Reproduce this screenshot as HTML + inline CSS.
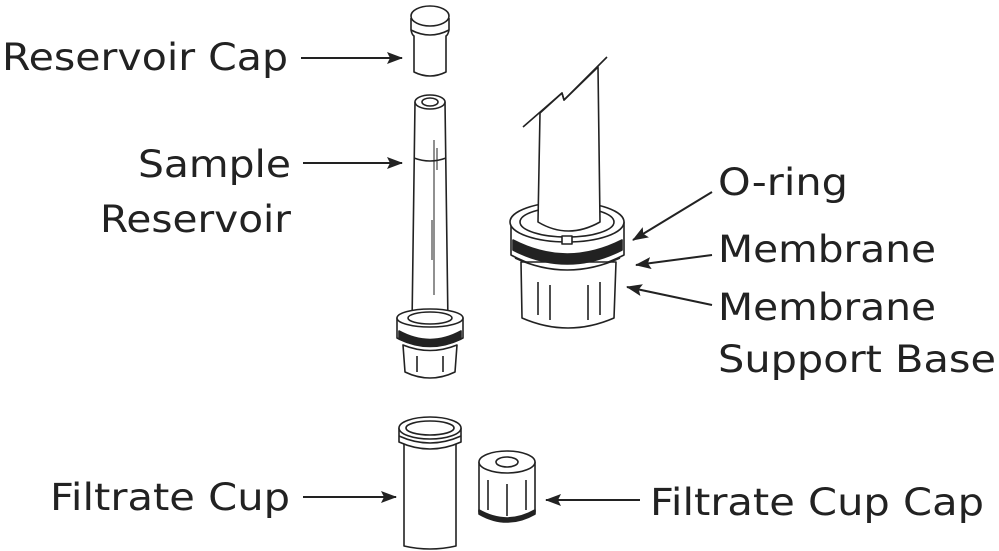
<!DOCTYPE html>
<html><head><meta charset="utf-8"><style>
html,body{margin:0;padding:0;background:#fff;}
svg{display:block}
text{font-family:"DejaVu Sans","Liberation Sans",sans-serif;font-size:37px;fill:#222}
</style></head><body>
<svg width="999" height="551" viewBox="0 0 999 551" xmlns="http://www.w3.org/2000/svg">
<defs>
<marker id="ah" markerWidth="16" markerHeight="12" refX="15" refY="6" orient="auto" markerUnits="userSpaceOnUse">
<path d="M0,0 L16,6 L0,12 L3,6 Z" fill="#222"/></marker>
</defs>
<g stroke="#222" stroke-width="1.6" fill="#fff" stroke-linejoin="round">
<path d="M411,18 L411,30 Q412,35 414,36 L414,72 Q430,80 446,72 L446,36 Q448,35 449,30 L449,18"/>
<ellipse cx="430" cy="16" rx="19" ry="10"/>
<path d="M411,30 Q430,40 449,30" fill="none"/>
<path d="M415,102 L412,325 L448,325 L445,102 Z"/>
<ellipse cx="430" cy="102" rx="15" ry="7"/>
<ellipse cx="430" cy="102" rx="8" ry="4"/>
<path d="M414,158 Q430,164 446,158" fill="none"/>
<path d="M434,140 L434,295 M437,148 L437,170 M432,220 L432,260" fill="none" stroke-width="1"/>
<path d="M397,318 L397,338 Q430,354 463,338 L463,318 Z"/>
<ellipse cx="430" cy="318" rx="33" ry="9"/>
<ellipse cx="430" cy="318" rx="22" ry="6"/>
<path d="M399,331 Q430,348 461,331 L461,339 Q430,354 399,339 Z" fill="#222"/>
<path d="M403,345 L405,372 Q430,384 455,372 L457,345 Q430,356 403,345 Z"/>
<path d="M417,356 L417,372 M443,356 L443,372" fill="none"/>
<path d="M404,440 L404,546 Q430,552 456,546 L456,440"/>
<path d="M399,428 L399,442 Q430,456 461,442 L461,428"/>
<ellipse cx="430" cy="428" rx="31" ry="11"/>
<ellipse cx="430" cy="428" rx="24" ry="7"/>
<path d="M399,436 Q430,450 461,436" fill="none"/>
<path d="M479,462 L479,512 Q507,528 535,512 L535,462"/>
<ellipse cx="507" cy="462" rx="28" ry="11"/>
<ellipse cx="507" cy="462" rx="11" ry="5"/>
<path d="M479,510 Q507,526 535,510 L535,514 Q507,530 479,514 Z" fill="#222"/>
<path d="M488,480 L488,510 M507,484 L507,516 M526,480 L526,510" fill="none"/>
<path d="M511,222 L511,255 Q566,285 624,255 L624,222 Z"/>
<path d="M521,262 L522,318 Q568,338 614,318 L616,262 Z"/>
<path d="M538,282 L538,315 M550,285 L550,320 M588,285 L588,320 M600,282 L600,315" fill="none"/>
<ellipse cx="567" cy="222" rx="57" ry="20"/>
<ellipse cx="567" cy="222" rx="47" ry="15"/>
<path d="M513,240 Q567,268 622,240 L622,250 Q567,278 513,250 Z" fill="#222"/>
<path d="M515,258 Q567,282 620,258" fill="none"/>
<path d="M540,113 L538,222 Q568,240 600,222 L598,67 L564,100 L562,93 Z"/>
<path d="M523,127 L562,93 L564,100 L607,57" fill="none"/>
<rect x="562" y="236" width="10" height="8" fill="#fff"/>
</g>
<g stroke="#222" stroke-width="2" fill="none" marker-end="url(#ah)">
<line x1="301" y1="58" x2="402" y2="58"/>
<line x1="303" y1="163" x2="402" y2="163"/>
<line x1="303" y1="497" x2="396" y2="497"/>
<line x1="640" y1="500" x2="546" y2="500"/>
<line x1="712" y1="192" x2="633" y2="240"/>
<line x1="712" y1="255" x2="636" y2="265"/>
<line x1="712" y1="305" x2="627" y2="287"/>
</g>
<text x="2" y="70" textLength="286" lengthAdjust="spacingAndGlyphs">Reservoir Cap</text>
<text x="138" y="177" textLength="153" lengthAdjust="spacingAndGlyphs">Sample</text>
<text x="100" y="232" textLength="191" lengthAdjust="spacingAndGlyphs">Reservoir</text>
<text x="50" y="510" textLength="240" lengthAdjust="spacingAndGlyphs">Filtrate Cup</text>
<text x="650" y="515" textLength="334" lengthAdjust="spacingAndGlyphs">Filtrate Cup Cap</text>
<text x="718" y="195" textLength="130" lengthAdjust="spacingAndGlyphs">O-ring</text>
<text x="718" y="262" textLength="218" lengthAdjust="spacingAndGlyphs">Membrane</text>
<text x="718" y="320" textLength="218" lengthAdjust="spacingAndGlyphs">Membrane</text>
<text x="718" y="372" textLength="278" lengthAdjust="spacingAndGlyphs">Support Base</text>
</svg>
</body></html>
